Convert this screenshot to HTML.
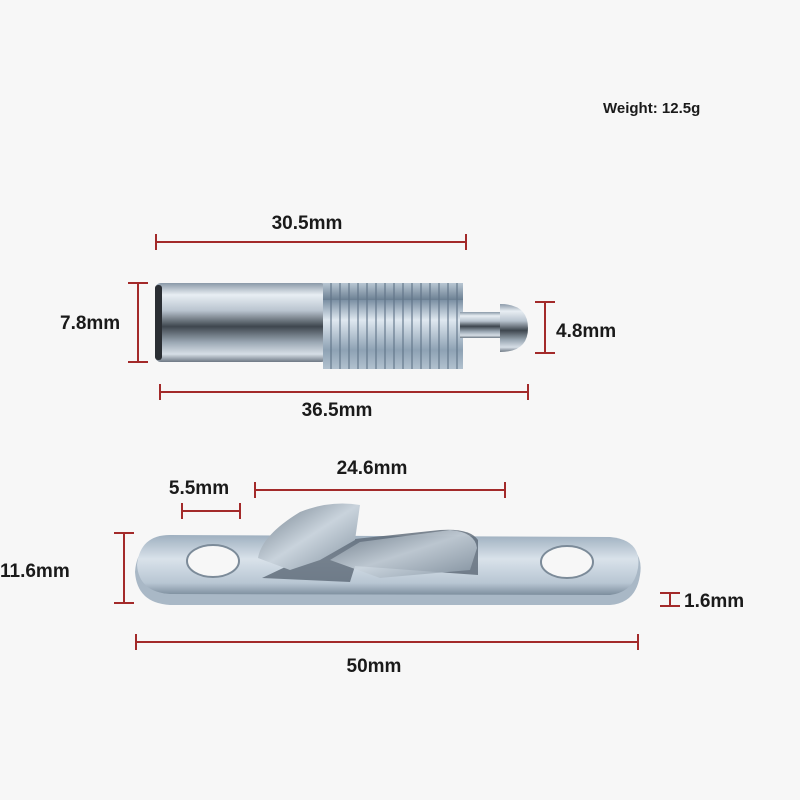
<!DOCTYPE html>
<html><head><style>
html,body{margin:0;padding:0;background:#f7f7f7;}
svg{display:block;}
text{font-family:"Liberation Sans",sans-serif;font-weight:bold;fill:#1a1a1a;}
</style></head><body>
<svg width="800" height="800" viewBox="0 0 800 800">
<defs>
<linearGradient id="cyl" x1="0" y1="0" x2="0" y2="1">
<stop offset="0" stop-color="#8a99a8"/><stop offset="0.15" stop-color="#e8eef3"/><stop offset="0.35" stop-color="#b9c4cf"/><stop offset="0.55" stop-color="#3e464e"/><stop offset="0.75" stop-color="#9aa7b3"/><stop offset="0.9" stop-color="#d6dee6"/><stop offset="1" stop-color="#6d7884"/>
</linearGradient>
<linearGradient id="thr" x1="0" y1="0" x2="0" y2="1">
<stop offset="0" stop-color="#7a8fa3"/><stop offset="0.2" stop-color="#dfe8f0"/><stop offset="0.5" stop-color="#8ea2b4"/><stop offset="0.8" stop-color="#c6d3de"/><stop offset="1" stop-color="#6b7f92"/>
</linearGradient>
<pattern id="threads" width="9" height="100" patternUnits="userSpaceOnUse">
<rect width="9" height="100" fill="url(#thr)"/><rect x="6" width="2" height="100" fill="#5e7386" opacity="0.55"/>
</pattern>
<linearGradient id="plate" x1="0" y1="0" x2="0" y2="1">
<stop offset="0" stop-color="#9fb0c0"/><stop offset="0.4" stop-color="#d9e2ea"/><stop offset="0.8" stop-color="#b8c6d3"/><stop offset="1" stop-color="#7d8e9e"/>
</linearGradient>
<linearGradient id="clip" x1="0" y1="0" x2="1" y2="1">
<stop offset="0" stop-color="#6f7d8a"/><stop offset="0.5" stop-color="#c9d3dc"/><stop offset="1" stop-color="#8493a1"/>
</linearGradient>
</defs>
<text x="603" y="113" font-size="15">Weight: 12.5g</text>

<g stroke="#a32a2a" stroke-width="2" fill="none">
<path d="M156 242H466M156 234V250M466 234V250"/>
<path d="M138 283V362M128 283H148M128 362H148"/>
<path d="M545 302V353M535 302H555M535 353H555"/>
<path d="M160 392H528M160 384V400M528 384V400"/>
<path d="M255 490H505M255 482V498M505 482V498"/>
<path d="M182 511H240M182 503V519M240 503V519"/>
<path d="M124 533V603M114 533H134M114 603H134"/>
<path d="M660 593H680M660 606H680M670 593V606"/>
<path d="M136 642H638M136 634V650M638 634V650"/>
</g>
<text x="307" y="229" font-size="19" text-anchor="middle">30.5mm</text>
<text x="60" y="329" font-size="19">7.8mm</text>
<text x="556" y="337" font-size="19">4.8mm</text>
<text x="337" y="416" font-size="19" text-anchor="middle">36.5mm</text>
<text x="372" y="474" font-size="19" text-anchor="middle">24.6mm</text>
<text x="199" y="494" font-size="19" text-anchor="middle">5.5mm</text>
<text x="0" y="577" font-size="19">11.6mm</text>
<text x="684" y="607" font-size="19">1.6mm</text>
<text x="374" y="672" font-size="19" text-anchor="middle">50mm</text>

<!-- pin -->
<rect x="155" y="283" width="172" height="79" rx="6" fill="url(#cyl)"/>
<rect x="155" y="285" width="7" height="75" rx="3" fill="#2a2e33"/>
<rect x="323" y="283" width="140" height="86" fill="url(#threads)"/>
<rect x="460" y="312" width="44" height="26" fill="url(#cyl)"/>
<path d="M500 304 Q528 304 528 328 Q528 352 500 352 Z" fill="url(#cyl)"/>

<!-- plate -->
<path d="M170 540 L610 540 Q645 545 640 575 Q636 603 610 605 L170 605 Q137 603 135 572 Q137 540 170 540Z" fill="#a9b8c6"/>
<path d="M170 535 L610 537 Q642 540 638 568 Q634 592 610 595 L170 594 Q139 592 137 565 Q140 535 170 535Z" fill="url(#plate)"/>
<ellipse cx="213" cy="561" rx="26" ry="16" fill="#f7f7f7" stroke="#7c8b99" stroke-width="2"/>
<ellipse cx="567" cy="562" rx="26" ry="16" fill="#f7f7f7" stroke="#7c8b99" stroke-width="2"/>
<path d="M262 578 L350 582 L355 566 L450 573 L478 575 L478 540 Q470 528 440 530 L345 540 L300 560 Z" fill="#5b6875" opacity="0.8"/>
<path d="M258 558 Q262 535 300 512 Q330 500 360 505 L355 540 L320 560 L290 570 Z" fill="url(#clip)"/>
<path d="M330 560 L360 542 L450 530 Q475 532 477 548 L470 570 L380 578 Z" fill="url(#clip)" opacity="0.85"/>
</svg>
</body></html>
